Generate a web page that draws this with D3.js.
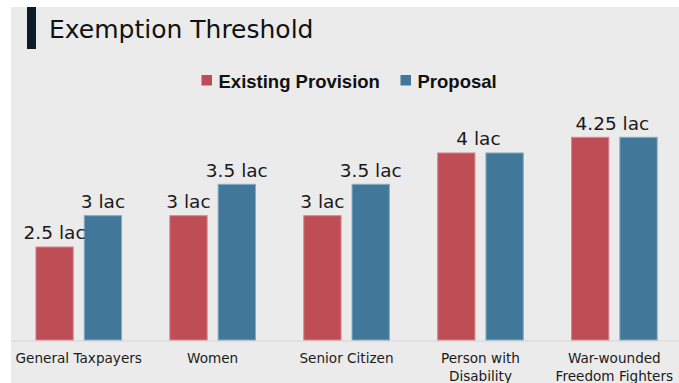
<!DOCTYPE html>
<html>
<head>
<meta charset="utf-8">
<script src="https://cdn.jsdelivr.net/npm/d3@7"></script>
<style>
  html, body { margin: 0; padding: 0; background: #ffffff; }
  svg { display: block; }
</style>
</head>
<body>
<svg id="chart" width="679" height="383"></svg>
<script>
// Exemption threshold (in lac) by taxpayer category
const categories = ["General Taxpayers", "Women", "Senior Citizen", "Person with\nDisability", "War-wounded\nFreedom Fighters"];
const seriesNames = ["Existing Provision", "Proposal"];
const existing = [2.5, 3, 3, 4, 4.25];
const proposal = [3, 3.5, 3.5, 4, 4.25];
const valueSuffix = " lac";
const colors = ["#bf4d55", "#417899"];
const strokes = ["#d98890", "#86aac3"];

const W = 679, H = 383;
const svg = d3.select("#chart");

// Panel background
svg.append("rect").attr("x", 11).attr("y", 7).attr("width", W - 11).attr("height", H - 7).attr("fill", "#ebebeb");

// Title with accent bar
svg.append("rect").attr("x", 27).attr("y", 7).attr("width", 9).attr("height", 42).attr("fill", "#0e1c25");
svg.append("text").attr("x", 49).attr("y", 37.5)
  .attr("font-family", "'DejaVu Sans', sans-serif").attr("font-size", 25).attr("fill", "#111")
  .text("Exemption Threshold");

// Scales
const x0 = d3.scaleBand().domain(categories).range([11.8, 681.3]).padding(0);
const x1 = d3.scaleBand().domain(seriesNames).range([0, x0.bandwidth()]).paddingInner(0.207).paddingOuter(0.489);
const y = d3.scaleLinear().domain([1, 4.25]).range([340.5, 136.8]);

const rows = categories.map((c, i) => ({ cat: c, vals: [existing[i], proposal[i]] }));

// Baseline
svg.append("line").attr("x1", 11).attr("x2", W).attr("y1", 341).attr("y2", 341)
  .attr("stroke", "#dcdcdc").attr("stroke-width", 1.5);

// Bars
const g = svg.selectAll("g.grp").data(rows).join("g").attr("class", "grp")
  .attr("transform", d => `translate(${x0(d.cat)},0)`);
g.selectAll("rect").data(d => d.vals.map((v, k) => ({ v, k })))
  .join("rect")
  .attr("x", d => x1(seriesNames[d.k]) + 0.5)
  .attr("y", d => y(d.v) + 0.5)
  .attr("width", x1.bandwidth() - 1)
  .attr("height", d => y(1) - y(d.v) - 1)
  .attr("fill", d => colors[d.k])
  .attr("stroke", d => strokes[d.k]).attr("stroke-width", 1);

// Value labels: one per bar, or one centred over the group when both values agree
const labelFont = "'DejaVu Sans', sans-serif";
g.each(function(d) {
  const sel = d3.select(this);
  const fmt = v => v + valueSuffix;
  const labels = d.vals[0] === d.vals[1]
    ? [{ x: x0.bandwidth() / 2 - 2, v: d.vals[0] }]
    : d.vals.map((v, k) => ({ x: x1(seriesNames[k]) + x1.bandwidth() / 2, v }));
  sel.selectAll("text.val").data(labels).join("text").attr("class", "val")
    .attr("x", l => l.x).attr("y", l => y(l.v) - 7)
    .attr("text-anchor", "middle")
    .attr("font-family", labelFont).attr("font-size", 18.5).attr("fill", "#1a1a1a")
    .text(l => fmt(l.v));
});

// Category labels
const cat = svg.selectAll("text.cat").data(categories).join("text").attr("class", "cat")
  .attr("x", c => x0(c) + x0.bandwidth() / 2).attr("y", 363)
  .attr("text-anchor", "middle")
  .attr("font-family", labelFont).attr("font-size", 13.6).attr("fill", "#1a1a1a");
cat.selectAll("tspan").data(c => c.split("\n")).join("tspan")
  .attr("x", function() { return this.parentNode.getAttribute("x"); })
  .attr("dy", (t, i) => i === 0 ? 0 : 17.5)
  .text(t => t);

// Legend
const legend = svg.append("g").attr("font-family", "'Liberation Sans', Arial, sans-serif").attr("font-weight", "bold").attr("font-size", 18.5);
const legendX = [201.5, 400.5];
seriesNames.forEach((s, k) => {
  legend.append("rect").attr("x", legendX[k]).attr("y", 75).attr("width", 10.5).attr("height", 10.5).attr("fill", colors[k]);
  legend.append("text").attr("x", legendX[k] + 17).attr("y", 87.5).attr("fill", "#111").text(s);
});
</script>
</body>
</html>
